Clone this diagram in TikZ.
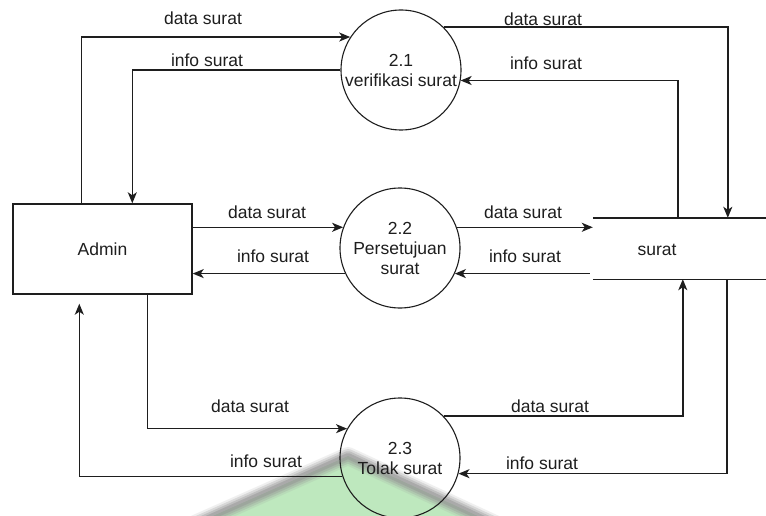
\documentclass[tikz,border=0pt]{standalone}
\usepackage{fontspec}
\setmainfont{Liberation Sans}
\usetikzlibrary{arrows.meta}
\definecolor{ink}{RGB}{30,30,30}
\definecolor{wmgreen}{RGB}{190,232,190}
\definecolor{wmgray}{RGB}{150,150,150}
\tikzset{
  flow/.style={draw=ink, line width=1.4pt, -{Stealth[length=11pt,width=9pt,inset=3pt]}},
  process/.style={circle, draw=ink, line width=1.1pt, minimum size=120pt, inner sep=0pt,
                  align=center, font=\fontsize{17.5}{20}\selectfont, text=ink},
  entity/.style={rectangle, draw=ink, line width=1.4pt, minimum width=179pt, minimum height=90pt,
                 inner sep=0pt, font=\fontsize{17.5}{20}\selectfont, text=ink},
  storebox/.style={rectangle, minimum width=173pt, minimum height=61pt, inner sep=0pt},
  flowlabel/.style={font=\fontsize{17.5}{20}\selectfont, text=ink, inner sep=0pt}
}
\begin{document}
\begin{tikzpicture}[x=1pt,y=-1pt]
\useasboundingbox (0,0) rectangle (766,516);
\fill[white] (0,0) rectangle (766,516);

% faint logo in the lower part of the page, with a soft grey rim
\fill[wmgreen] (195,524) -- (348,456) -- (495,524) -- cycle;
\foreach \w/\o in {18/0.15, 14/0.25, 10/0.35, 6/0.5} {
  \draw[wmgray, line width=\w pt, line join=round, opacity=\o]
    (195,524) -- (348,456) -- (495,524);
}

% entities, processes and the data store
\node[entity] (admin) at (102.5,249) {Admin};
\node[process] (p1) at (401,70) {2.1\\verifikasi surat};
\node[process] (p2) at (400,248) {2.2\\Persetujuan\\surat};
\node[process] (p3) at (400,458) {2.3\\Tolak surat};
\node[storebox] (store) at (679.5,248.5) {};
\node[flowlabel] (storename) at (657,250) {surat};
\draw[ink, line width=1.4pt] (store.north west) -- (store.north east);
\draw[ink, line width=1.4pt] (store.south west) -- (store.south east);

% 2.1 verifikasi surat
\draw[flow] ([xshift=69pt]admin.north west) |- (p1.147);
\draw[flow] (p1.west) -| ([xshift=120pt]admin.north west);
\draw[flow] (p1.45) -| ([xshift=135pt]store.north west);
\draw[flow] ([xshift=85pt]store.north west) |- (p1.-10);

% 2.2 Persetujuan surat
\draw[flow] (admin.east |- p2.160) -- (p2.160);
\draw[flow] (p2.205) -- (admin.east |- p2.205);
\draw[flow] (p2.20) -- (store.west |- p2.20);
\draw[flow] ([xshift=-3pt]store.west |- p2.-25) -- (p2.-25);

% 2.3 Tolak surat
\draw[flow] ([xshift=135pt]admin.south west) |- (p3.151);
\draw[flow, shorten >=9pt] (p3.198) -| ([xshift=67pt]admin.south west);
\draw[flow] (p3.44) -| ([xshift=90pt]store.south west);
\draw[flow] ([xshift=134pt]store.south west) |- (p3.-15);

% flow labels
\node[flowlabel] (l1) at (203,18) {data surat};
\node[flowlabel] (l2) at (207,60) {info surat};
\node[flowlabel] (l3) at (543,19) {data surat};
\node[flowlabel] (l4) at (546,63) {info surat};
\node[flowlabel] (l5) at (267,212) {data surat};
\node[flowlabel] (l6) at (273,256) {info surat};
\node[flowlabel] (l7) at (523,212) {data surat};
\node[flowlabel] (l8) at (525,256) {info surat};
\node[flowlabel] (l9) at (250,406) {data surat};
\node[flowlabel] (l10) at (266,461) {info surat};
\node[flowlabel] (l11) at (550,406) {data surat};
\node[flowlabel] (l12) at (542,463) {info surat};
\end{tikzpicture}
\end{document}
